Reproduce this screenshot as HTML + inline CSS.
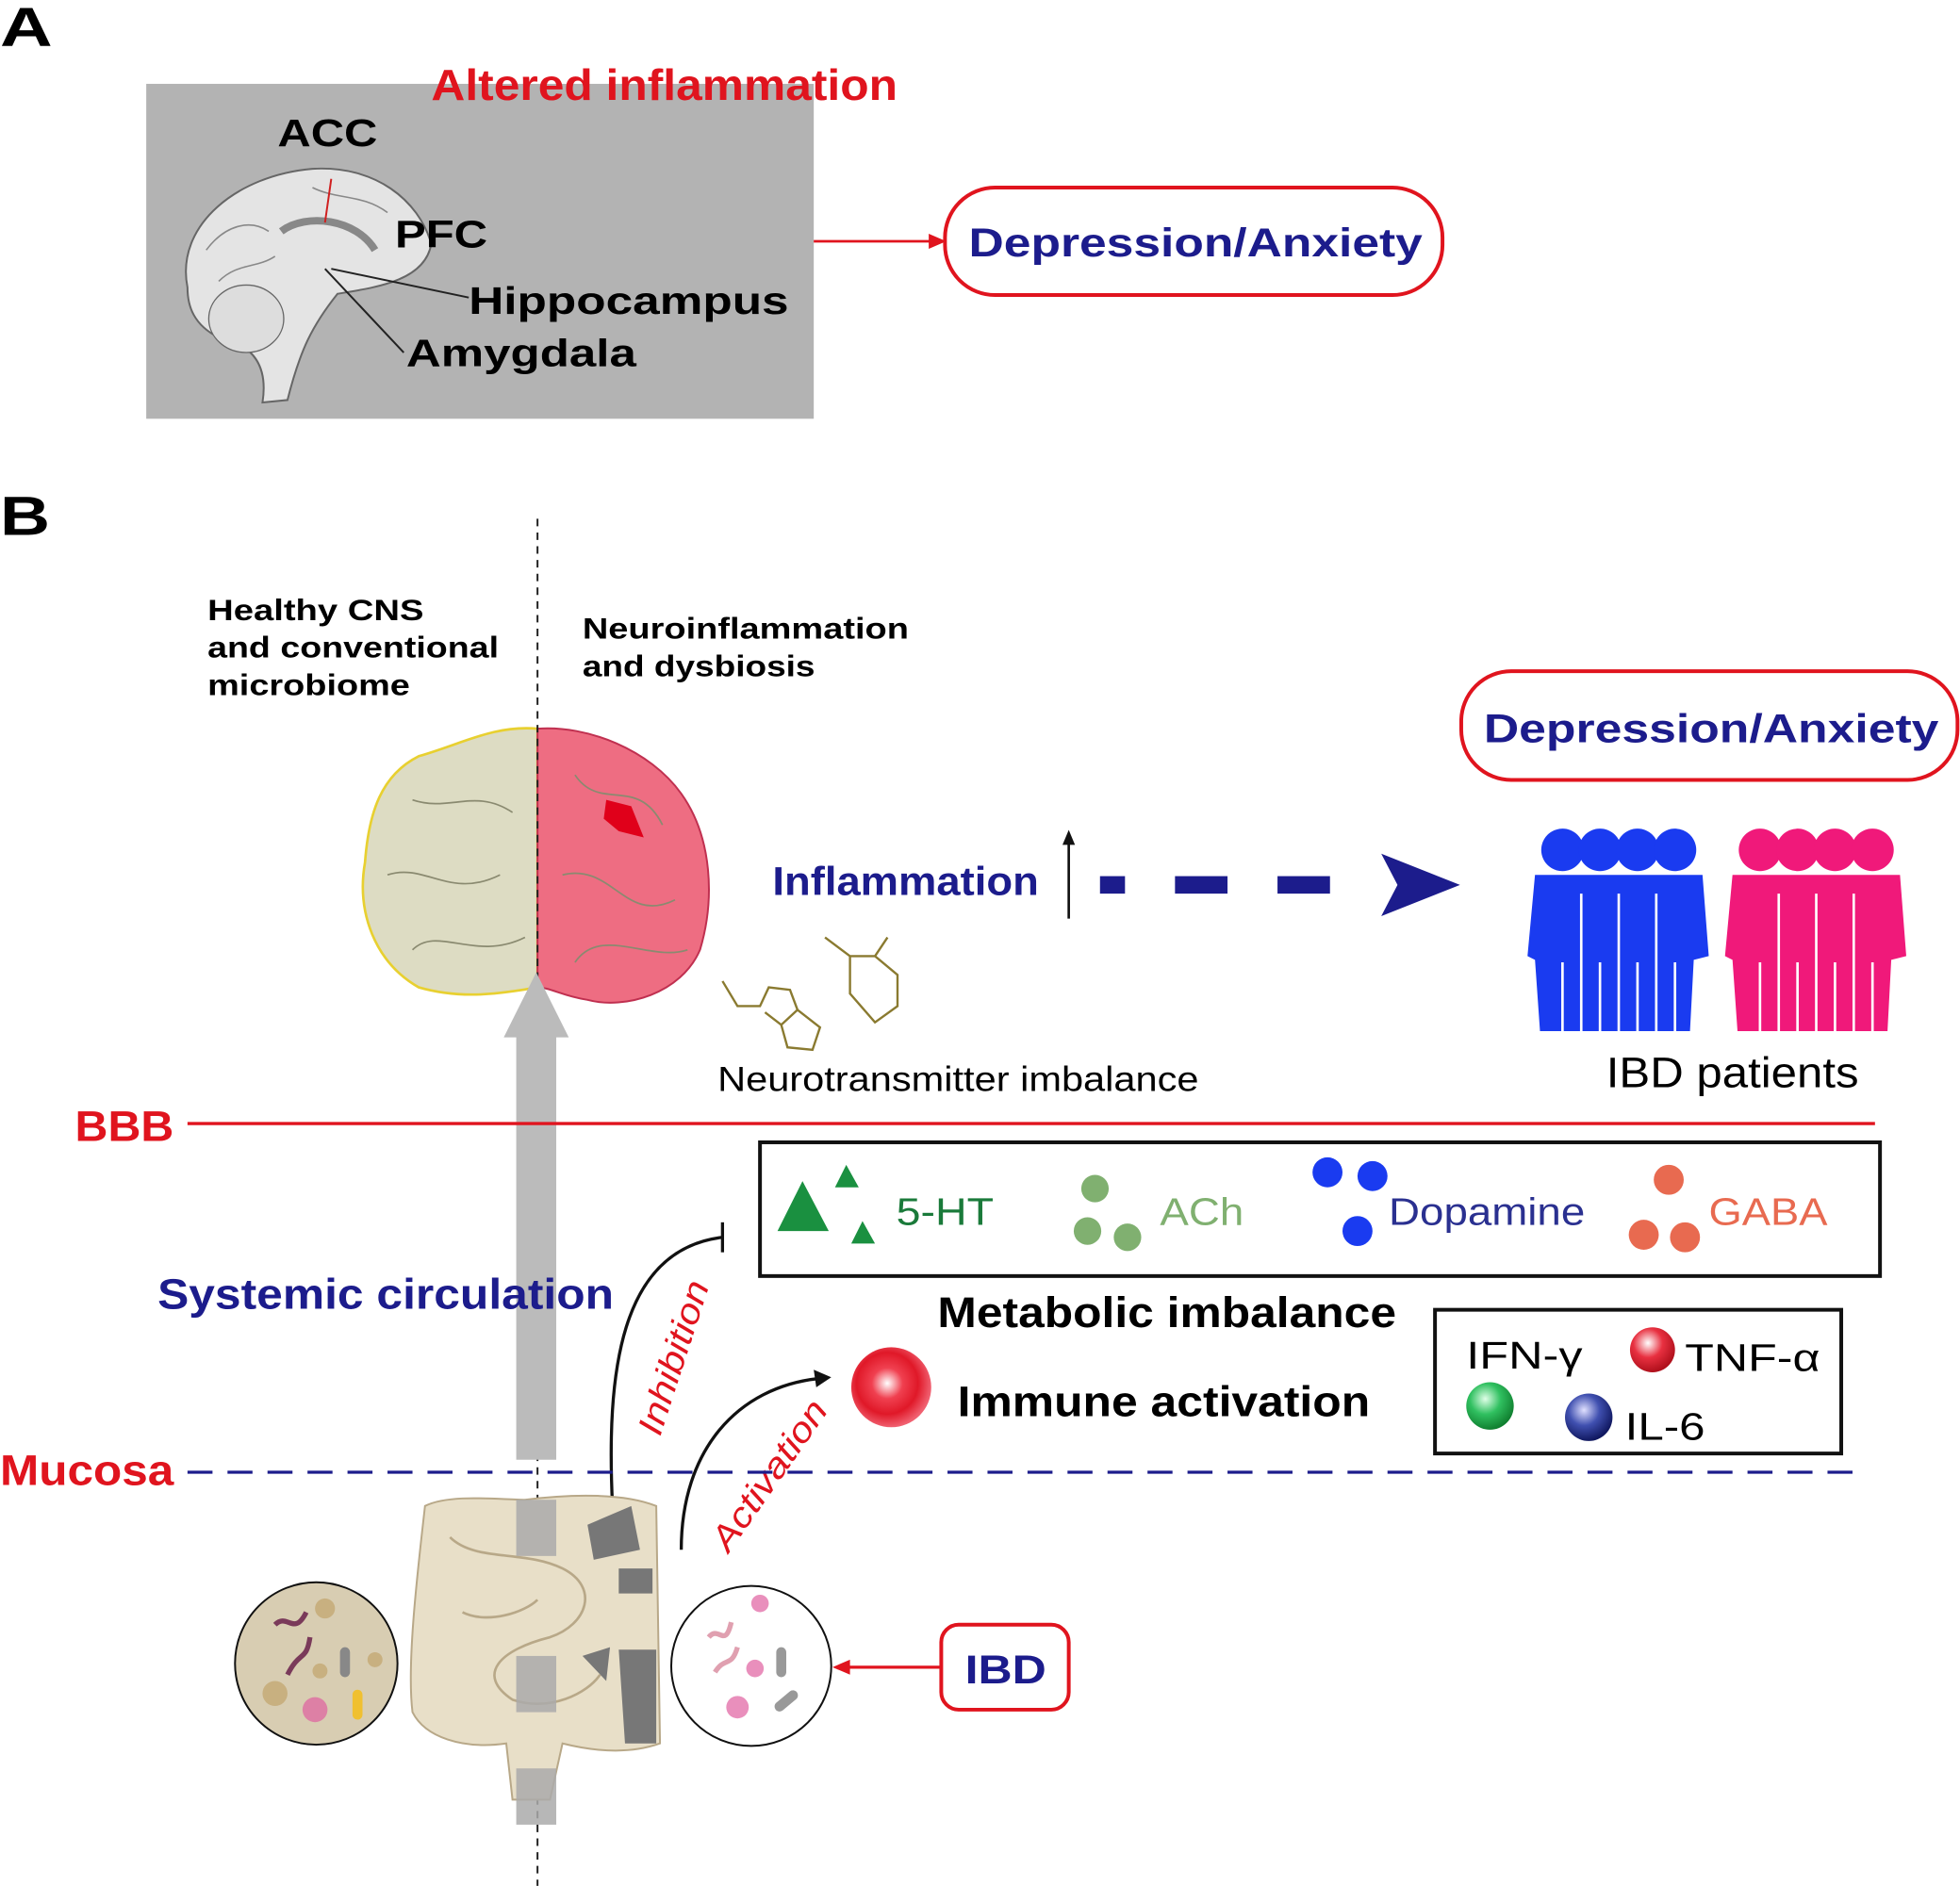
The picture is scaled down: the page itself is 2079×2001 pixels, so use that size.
<!DOCTYPE html>
<html><head><meta charset="utf-8"><style>
html,body{margin:0;padding:0;background:#fff;}
svg{display:block;}
text{font-family:"Liberation Sans",sans-serif;}
</style></head><body>
<svg width="2079" height="2001" viewBox="0 0 1568 1509" xmlns="http://www.w3.org/2000/svg">
<defs>
<radialGradient id="rg" cx="40%" cy="35%" r="65%"><stop offset="0" stop-color="#fff"/><stop offset="0.5" stop-color="#e83040"/><stop offset="1" stop-color="#b0101c"/></radialGradient>
<radialGradient id="gg" cx="40%" cy="35%" r="65%"><stop offset="0" stop-color="#e0ffe8"/><stop offset="0.5" stop-color="#30c060"/><stop offset="1" stop-color="#108030"/></radialGradient>
<radialGradient id="bg" cx="40%" cy="35%" r="65%"><stop offset="0" stop-color="#e0e0ff"/><stop offset="0.5" stop-color="#4050b0"/><stop offset="1" stop-color="#101860"/></radialGradient>
<radialGradient id="red" cx="45%" cy="45%" r="55%"><stop offset="0" stop-color="#fff"/><stop offset="0.35" stop-color="#f04050"/><stop offset="0.7" stop-color="#e01828"/><stop offset="1" stop-color="#f06070"/></radialGradient>
</defs>
<g>
<text x="0" y="37" font-size="44" font-weight="bold" textLength="42" lengthAdjust="spacingAndGlyphs">A</text>
<rect x="117" y="67" width="534" height="268" fill="#b3b3b3"/>
<path d="M150,230 C140,180 190,140 250,135 C300,132 335,160 345,195 C340,225 300,230 270,235 C250,260 240,280 230,320 L210,322 C215,290 200,275 175,270 C155,260 150,245 150,230Z" fill="#e4e4e4" stroke="#666" stroke-width="1.5"/>
<ellipse cx="197" cy="255" rx="30" ry="27" fill="#ddd" stroke="#666"/>
<path d="M165,200 C180,180 200,175 215,185 M175,225 C190,210 205,215 220,205 M250,150 C270,160 290,155 310,170" fill="none" stroke="#888" stroke-width="1.2"/>
<path d="M225,185 C245,170 285,175 300,200" fill="none" stroke="#888" stroke-width="6"/>
<line x1="265" y1="143" x2="260" y2="178" stroke="#d02020" stroke-width="1.5"/>
<line x1="265" y1="215" x2="375" y2="238" stroke="#222" stroke-width="1.5"/>
<line x1="260" y1="215" x2="323" y2="282" stroke="#222" stroke-width="1.5"/>
<text x="345" y="80" font-size="35" font-weight="bold" fill="#e0141e" textLength="373" lengthAdjust="spacingAndGlyphs">Altered inflammation</text>
<text x="222" y="117" font-size="31" font-weight="bold" textLength="80" lengthAdjust="spacingAndGlyphs">ACC</text>
<text x="316" y="198" font-size="31" font-weight="bold" textLength="74" lengthAdjust="spacingAndGlyphs">PFC</text>
<text x="375" y="251" font-size="31" font-weight="bold" textLength="256" lengthAdjust="spacingAndGlyphs">Hippocampus</text>
<text x="325" y="293" font-size="31" font-weight="bold" textLength="184" lengthAdjust="spacingAndGlyphs">Amygdala</text>
<line x1="651" y1="193" x2="745" y2="193" stroke="#e0141e" stroke-width="2"/>
<path d="M757,193 L743,187 L743,199Z" fill="#e0141e"/>
<rect x="756" y="150" width="398" height="86" rx="40" fill="#fff" stroke="#e0141e" stroke-width="3"/>
<text x="775" y="205" font-size="32" font-weight="bold" fill="#1c1c8c" textLength="363" lengthAdjust="spacingAndGlyphs">Depression/Anxiety</text>
<text x="0" y="428" font-size="44" font-weight="bold" textLength="40" lengthAdjust="spacingAndGlyphs">B</text>
<text x="166" y="496" font-size="24" font-weight="bold" textLength="173" lengthAdjust="spacingAndGlyphs">Healthy CNS</text>
<text x="166" y="526" font-size="24" font-weight="bold" textLength="233" lengthAdjust="spacingAndGlyphs">and conventional</text>
<text x="166" y="556" font-size="24" font-weight="bold" textLength="162" lengthAdjust="spacingAndGlyphs">microbiome</text>
<text x="466" y="511" font-size="24" font-weight="bold" textLength="261" lengthAdjust="spacingAndGlyphs">Neuroinflammation</text>
<text x="466" y="541" font-size="24" font-weight="bold" textLength="186" lengthAdjust="spacingAndGlyphs">and dysbiosis</text>
<path d="M430,583 C395,580 370,595 335,605 C305,620 295,650 292,690 C285,730 300,770 335,790 C370,800 400,795 430,790Z" fill="#dddcc3" stroke="#e8d030" stroke-width="2"/>
<path d="M430,583 C470,580 520,600 545,635 C570,670 572,720 560,760 C545,795 500,808 470,800 C450,797 440,790 430,790Z" fill="#ee6d82" stroke="#c03050" stroke-width="1.5"/>
<path d="M485,640 L505,645 L515,670 L495,665 L483,655Z" fill="#e0001a"/>
<path d="M330,640 C360,650 380,630 410,650 M310,700 C340,690 360,720 400,700 M330,760 C350,740 380,770 420,750 M460,620 C480,650 510,620 530,660 M450,700 C490,690 500,740 540,720 M460,770 C480,740 520,770 550,760" fill="none" stroke="#8a8a70" stroke-width="1.3"/>
<line x1="430" y1="415" x2="430" y2="1509" stroke="#222" stroke-width="1.5" stroke-dasharray="6,5"/>
<rect x="413" y="828" width="32" height="340" fill="#bbb"/>
<path d="M403,830 L429,778 L455,830Z" fill="#bbb"/>
<text x="618" y="716" font-size="32" font-weight="bold" fill="#1c1c8c" textLength="213" lengthAdjust="spacingAndGlyphs">Inflammation</text>
<line x1="855" y1="735" x2="855" y2="672" stroke="#111" stroke-width="2"/>
<path d="M855,664 L850,676 L860,676Z" fill="#111"/>
<rect x="880" y="701" width="20" height="14" fill="#1c1c8c"/>
<rect x="940" y="701" width="42" height="14" fill="#1c1c8c"/>
<rect x="1022" y="701" width="42" height="14" fill="#1c1c8c"/>
<path d="M1105,683 L1168,708 L1105,733 L1118,708Z" fill="#1c1c8c"/>
<rect x="1169" y="537" width="397" height="87" rx="40" fill="#fff" stroke="#e0141e" stroke-width="3"/>
<text x="1187" y="594" font-size="32" font-weight="bold" fill="#1c1c8c" textLength="364" lengthAdjust="spacingAndGlyphs">Depression/Anxiety</text>
<g fill="#1a3bf0">
<circle cx="1250" cy="680" r="17"/><circle cx="1280" cy="680" r="17"/><circle cx="1310" cy="680" r="17"/><circle cx="1340" cy="680" r="17"/>
<path d="M1228,700 L1362,700 L1367,765 L1355,768 L1352,825 L1232,825 L1228,768 L1222,765Z"/>
</g>
<g fill="#f0197a">
<circle cx="1408" cy="680" r="17"/><circle cx="1438" cy="680" r="17"/><circle cx="1468" cy="680" r="17"/><circle cx="1498" cy="680" r="17"/>
<path d="M1386,700 L1520,700 L1525,765 L1513,768 L1510,825 L1390,825 L1386,768 L1380,765Z"/>
</g>
<g stroke="#fff" stroke-width="2"><line x1="1265" y1="715" x2="1265" y2="825"/><line x1="1295" y1="715" x2="1295" y2="825"/><line x1="1325" y1="715" x2="1325" y2="825"/><line x1="1423" y1="715" x2="1423" y2="825"/><line x1="1453" y1="715" x2="1453" y2="825"/><line x1="1483" y1="715" x2="1483" y2="825"/>
<line x1="1250" y1="770" x2="1250" y2="825"/><line x1="1280" y1="770" x2="1280" y2="825"/><line x1="1310" y1="770" x2="1310" y2="825"/><line x1="1340" y1="770" x2="1340" y2="825"/><line x1="1408" y1="770" x2="1408" y2="825"/><line x1="1438" y1="770" x2="1438" y2="825"/><line x1="1468" y1="770" x2="1468" y2="825"/><line x1="1498" y1="770" x2="1498" y2="825"/></g>
<text x="1285" y="870" font-size="34" textLength="202" lengthAdjust="spacingAndGlyphs">IBD patients</text>
<g fill="none" stroke="#8a7a30" stroke-width="1.8">
<path d="M578,785 L590,805 L608,805 L615,790 L632,792 L638,808 L625,820 L612,810 M625,820 L630,838 L650,840 L656,822 L638,808"/>
<path d="M660,750 L680,765 L680,795 L700,818 L718,805 L718,780 L700,765 L680,765 M700,765 L710,750"/>
</g>
<text x="574" y="873" font-size="28" textLength="385" lengthAdjust="spacingAndGlyphs">Neurotransmitter imbalance</text>
<text x="60" y="913" font-size="34" font-weight="bold" fill="#e0141e" textLength="79" lengthAdjust="spacingAndGlyphs">BBB</text>
<line x1="150" y1="899" x2="1500" y2="899" stroke="#e0141e" stroke-width="2.5"/>
<rect x="608" y="914" width="896" height="107" fill="#fff" stroke="#111" stroke-width="3"/>
<path d="M622,985 L642,945 L663,985Z" fill="#1a9040"/>
<path d="M668,950 L677,932 L687,950Z" fill="#1a9040"/>
<path d="M681,995 L690,977 L700,995Z" fill="#1a9040"/>
<text x="717" y="980" font-size="31" fill="#1a7a3a" textLength="78" lengthAdjust="spacingAndGlyphs">5-HT</text>
<circle cx="876" cy="951" r="11" fill="#80b070"/><circle cx="870" cy="985" r="11" fill="#80b070"/><circle cx="902" cy="990" r="11" fill="#80b070"/>
<text x="928" y="980" font-size="31" fill="#80b070" textLength="67" lengthAdjust="spacingAndGlyphs">ACh</text>
<circle cx="1062" cy="938" r="12" fill="#1a3bf0"/><circle cx="1098" cy="941" r="12" fill="#1a3bf0"/><circle cx="1086" cy="985" r="12" fill="#1a3bf0"/>
<text x="1111" y="980" font-size="31" fill="#2a3090" textLength="157" lengthAdjust="spacingAndGlyphs">Dopamine</text>
<circle cx="1335" cy="944" r="12" fill="#e86a50"/><circle cx="1315" cy="988" r="12" fill="#e86a50"/><circle cx="1348" cy="990" r="12" fill="#e86a50"/>
<text x="1367" y="980" font-size="31" fill="#e86a50" textLength="95" lengthAdjust="spacingAndGlyphs">GABA</text>
<text x="126" y="1047" font-size="34" font-weight="bold" fill="#1c1c8c" textLength="365" lengthAdjust="spacingAndGlyphs">Systemic circulation</text>
<text x="750" y="1062" font-size="34" font-weight="bold" textLength="367" lengthAdjust="spacingAndGlyphs">Metabolic imbalance</text>
<path d="M490,1205 C485,1100 495,1000 578,990" fill="none" stroke="#111" stroke-width="2.5"/>
<line x1="578" y1="978" x2="578" y2="1002" stroke="#111" stroke-width="2.5"/>
<text transform="translate(528,1150) rotate(-72)" font-size="28" font-style="italic" fill="#e0141e" textLength="128" lengthAdjust="spacingAndGlyphs">Inhibition</text>
<path d="M545,1240 C545,1160 590,1110 655,1103" fill="none" stroke="#111" stroke-width="2.5"/>
<path d="M665,1102 L651,1096 L653,1110Z" fill="#111"/>
<text transform="translate(583,1243) rotate(-55)" font-size="28" font-style="italic" fill="#e0141e" textLength="140" lengthAdjust="spacingAndGlyphs">Activation</text>
<circle cx="713" cy="1110" r="32" fill="url(#red)"/>
<text x="766" y="1133" font-size="34" font-weight="bold" textLength="330" lengthAdjust="spacingAndGlyphs">Immune activation</text>
<rect x="1148" y="1048" width="325" height="115" fill="#fff" stroke="#111" stroke-width="3"/>
<text x="1173" y="1095" font-size="31" textLength="93" lengthAdjust="spacingAndGlyphs">IFN-γ</text>
<circle cx="1322" cy="1080" r="18" fill="url(#rg)"/>
<text x="1348" y="1097" font-size="31" textLength="108" lengthAdjust="spacingAndGlyphs">TNF-α</text>
<circle cx="1192" cy="1125" r="19" fill="url(#gg)"/>
<circle cx="1271" cy="1134" r="19" fill="url(#bg)"/>
<text x="1300" y="1152" font-size="31" textLength="64" lengthAdjust="spacingAndGlyphs">IL-6</text>
<text x="0" y="1188" font-size="34" font-weight="bold" fill="#e0141e" textLength="139" lengthAdjust="spacingAndGlyphs">Mucosa</text>
<line x1="150" y1="1178" x2="1490" y2="1178" stroke="#1c1c8c" stroke-width="2.5" stroke-dasharray="20,12"/>
<path d="M340,1205 C360,1195 400,1200 420,1200 C460,1195 500,1195 525,1205 L528,1395 C500,1405 470,1400 450,1395 L440,1440 L410,1440 L405,1395 C370,1400 340,1390 330,1370 C325,1330 335,1250 340,1205Z" fill="#e8dfc8" stroke="#b8a888" stroke-width="1.5"/>
<path d="M360,1230 C380,1250 420,1240 450,1255 C480,1270 470,1300 440,1310 C400,1320 380,1340 410,1360 C440,1370 470,1355 480,1340 M370,1290 C390,1300 420,1290 430,1280" fill="none" stroke="#b8a888" stroke-width="2"/>
<path d="M470,1220 L505,1205 L512,1240 L475,1248Z M495,1255 L522,1255 L522,1275 L495,1275Z M495,1320 L525,1320 L525,1395 L500,1395Z M466,1325 L488,1318 L485,1345Z" fill="#777"/>
<rect x="413" y="1200" width="32" height="45" fill="#aaa" opacity="0.85"/>
<rect x="413" y="1325" width="32" height="45" fill="#aaa" opacity="0.85"/>
<rect x="413" y="1415" width="32" height="45" fill="#aaa" opacity="0.85"/>
<circle cx="253" cy="1331" r="65" fill="#d8cdb2" stroke="#111" stroke-width="1.5"/>
<circle cx="260" cy="1287" r="8" fill="#c8b080"/><circle cx="220" cy="1355" r="10" fill="#c8b080"/><circle cx="256" cy="1337" r="6" fill="#c8b080"/><circle cx="300" cy="1328" r="6" fill="#c8b080"/>
<path d="M220,1300 C230,1290 235,1310 245,1290 M230,1340 C240,1320 245,1330 248,1310" stroke="#7a3a5a" stroke-width="4" fill="none"/>
<circle cx="252" cy="1368" r="10" fill="#e060a0" opacity="0.7"/>
<rect x="272" y="1318" width="8" height="24" rx="4" fill="#888"/><rect x="282" y="1352" width="8" height="24" rx="4" fill="#f0c030"/>
<circle cx="601" cy="1333" r="64" fill="#fff" stroke="#111" stroke-width="1.5"/>
<circle cx="608" cy="1283" r="7" fill="#e060a0" opacity="0.7"/><circle cx="604" cy="1335" r="7" fill="#e060a0" opacity="0.7"/><circle cx="590" cy="1366" r="9" fill="#e060a0" opacity="0.7"/>
<path d="M567,1310 C575,1300 580,1320 585,1298 M572,1338 C580,1325 585,1335 590,1318" stroke="#e0a0b0" stroke-width="4" fill="none"/>
<rect x="621" y="1318" width="8" height="24" rx="4" fill="#999"/><rect x="625" y="1350" width="8" height="22" rx="4" fill="#999" transform="rotate(50 629 1361)"/>
<line x1="752" y1="1334" x2="676" y2="1334" stroke="#e0141e" stroke-width="2.5"/>
<path d="M666,1334 L680,1328 L680,1340Z" fill="#e0141e"/>
<rect x="753" y="1300" width="102" height="68" rx="14" fill="#fff" stroke="#e0141e" stroke-width="3"/>
<text x="772" y="1347" font-size="32" font-weight="bold" fill="#1c1c8c" textLength="65" lengthAdjust="spacingAndGlyphs">IBD</text>
</g>
</svg>
</body></html>
